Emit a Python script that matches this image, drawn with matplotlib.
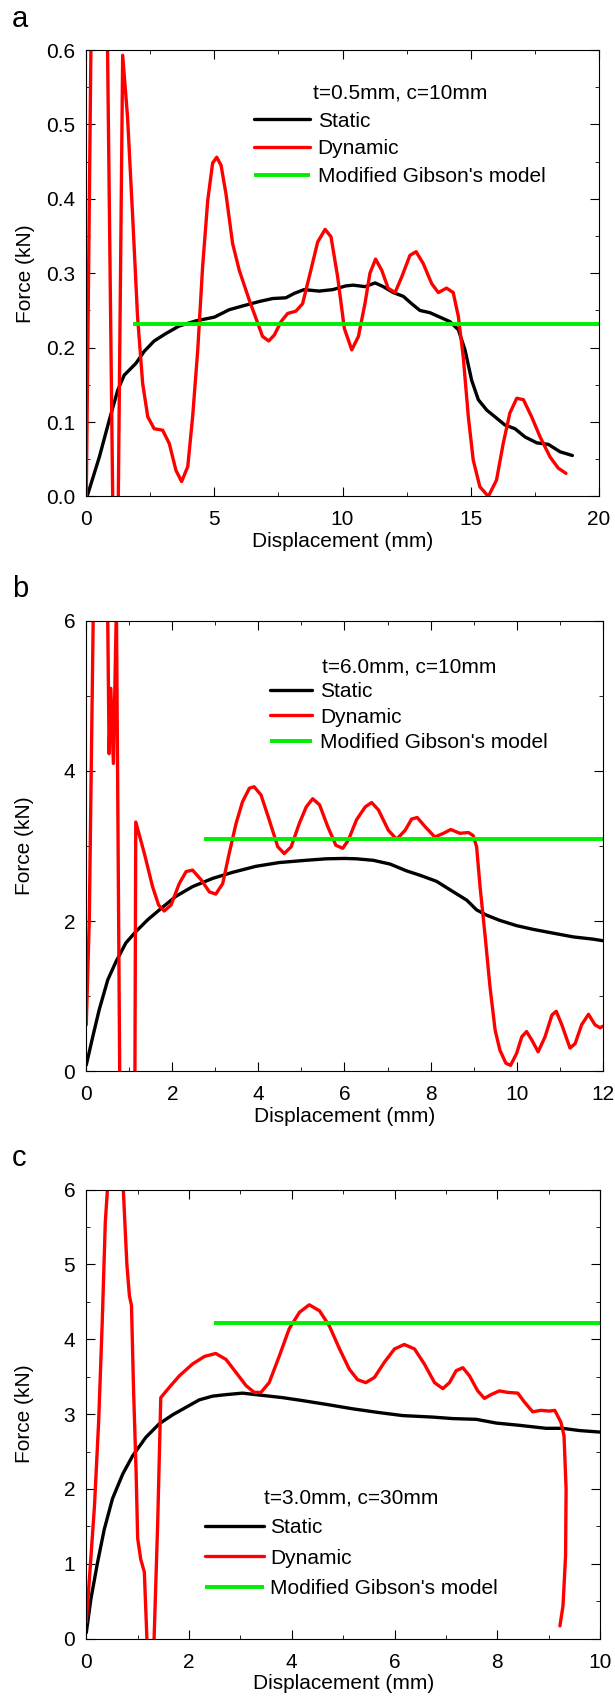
import matplotlib
matplotlib.use("Agg")
import matplotlib.pyplot as plt
from matplotlib.ticker import MultipleLocator, FormatStrFormatter

plt.rcParams['font.family'] = ['Liberation Sans', 'DejaVu Sans']
plt.rcParams['lines.solid_joinstyle'] = 'round'
plt.rcParams['lines.solid_capstyle'] = 'round'

# ---------------- panel a : t=0.5mm, c=10mm ----------------
a_static_x = [0.05, 0.51, 0.90, 1.23, 1.48, 1.94, 2.26, 2.65, 3.11, 3.62, 4.28, 5.0, 5.58,
              6.1, 6.75, 7.27, 7.79, 8.12, 8.5, 9.09, 9.62, 10.13, 10.42, 10.88, 11.27,
              11.59, 11.98, 12.37, 12.7, 13.02, 13.41, 13.8, 14.19, 14.52, 14.78, 15.04,
              15.3, 15.63, 15.95, 16.34, 16.73, 17.12, 17.58, 18.03, 18.49, 18.97]
a_static_y = [0.002, 0.053, 0.103, 0.143, 0.163, 0.179, 0.195, 0.209, 0.219, 0.229, 0.236,
              0.241, 0.251, 0.256, 0.262, 0.266, 0.267, 0.273, 0.278, 0.276, 0.278, 0.283,
              0.284, 0.282, 0.287, 0.282, 0.274, 0.269, 0.259, 0.250, 0.247, 0.241, 0.235,
              0.224, 0.197, 0.156, 0.130, 0.116, 0.107, 0.096, 0.091, 0.080, 0.072, 0.070,
              0.060, 0.055]
a_dyn_x = [0.0, 0.18, 0.35, 0.55, 0.75, 0.83, 1.03, 1.14, 1.25, 1.42, 1.61, 1.81, 2.0,
           2.2, 2.4, 2.65, 2.98, 3.24, 3.5, 3.72, 3.96, 4.15, 4.35, 4.54, 4.74, 4.93, 5.09,
           5.26, 5.45, 5.71, 5.97, 6.36, 6.69, 6.88, 7.12, 7.34, 7.6, 7.86, 8.18, 8.44,
           8.7, 9.03, 9.32, 9.55, 9.81, 10.07, 10.36, 10.62, 10.88, 11.07, 11.29, 11.53,
           11.78, 12.05, 12.31, 12.63, 12.87, 13.15, 13.48, 13.74, 14.06, 14.32, 14.52,
           14.71, 14.91, 15.1, 15.36, 15.69, 16.01, 16.27, 16.53, 16.8, 17.06, 17.38,
           17.71, 18.1, 18.42, 18.72]
a_dyn_y = [0.0, 0.6, 0.9, 1.0, 0.85, 0.6, 0.0, -0.12, 0.0, 0.593, 0.510, 0.376, 0.242,
           0.152, 0.107, 0.091, 0.089, 0.071, 0.035, 0.020, 0.040, 0.107, 0.197, 0.309,
           0.398, 0.448, 0.456, 0.445, 0.407, 0.340, 0.304, 0.264, 0.233, 0.215, 0.209,
           0.217, 0.235, 0.246, 0.249, 0.259, 0.295, 0.342, 0.359, 0.349, 0.295, 0.226,
           0.197, 0.215, 0.260, 0.300, 0.319, 0.304, 0.280, 0.274, 0.295, 0.324, 0.329,
           0.313, 0.286, 0.274, 0.280, 0.274, 0.242, 0.188, 0.107, 0.049, 0.013, 0.0,
           0.022, 0.071, 0.112, 0.132, 0.130, 0.107, 0.080, 0.053, 0.038, 0.031]
a_gibson_start, a_gibson = 1.81, 0.232

# ---------------- panel b : t=6.0mm, c=10mm ----------------
b_static_x = [0, 0.15, 0.30, 0.50, 0.69, 0.92, 1.15, 1.43, 1.74, 2.08, 2.47, 2.94, 3.40,
              3.94, 4.48, 5.10, 5.57, 6.0, 6.28, 6.67, 7.06, 7.44, 7.76, 8.14, 8.53, 8.84,
              9.07, 9.3, 9.61, 10.0, 10.39, 10.85, 11.32, 11.78, 12.0]
b_static_y = [0.085, 0.46, 0.82, 1.22, 1.46, 1.71, 1.86, 2.02, 2.17, 2.33, 2.46, 2.57,
              2.65, 2.73, 2.78, 2.81, 2.83, 2.835, 2.83, 2.81, 2.76, 2.67, 2.61, 2.53,
              2.39, 2.28, 2.15, 2.08, 2.01, 1.94, 1.89, 1.84, 1.79, 1.76, 1.74]
b_dyn_x = [0, 0.07, 0.13, 0.16, 0.3, 0.49, 0.53, 0.57, 0.63, 0.70, 0.78, 0.95, 1.13,
           1.15, 1.35, 1.54, 1.68, 1.81, 1.97, 2.16, 2.32, 2.47, 2.67, 2.86, 3.01, 3.17,
           3.32, 3.48, 3.63, 3.79, 3.90, 4.06, 4.25, 4.45, 4.6, 4.76, 4.95, 5.11, 5.26,
           5.42, 5.61, 5.80, 5.96, 6.09, 6.28, 6.48, 6.63, 6.79, 7.02, 7.21, 7.41, 7.56,
           7.69, 7.87, 8.10, 8.30, 8.47, 8.68, 8.88, 8.99, 9.07, 9.15, 9.27, 9.38, 9.5,
           9.61, 9.75, 9.86, 10.0, 10.12, 10.23, 10.35, 10.5, 10.66, 10.82, 10.92, 11.05,
           11.24, 11.36, 11.51, 11.67, 11.82, 11.94, 12.0]
b_dyn_y = [0.62, 2.02, 4.68, 6.0, 7.0, 6.5, 4.23, 5.10, 4.10, 6.2, -0.3, -0.5, -0.05,
           3.32, 2.90, 2.46, 2.215, 2.135, 2.215, 2.50, 2.66, 2.68, 2.55, 2.39, 2.36,
           2.50, 2.90, 3.30, 3.59, 3.77, 3.79, 3.68, 3.35, 2.99, 2.90, 2.99, 3.30, 3.52,
           3.63, 3.55, 3.26, 3.01, 2.97, 3.08, 3.35, 3.52, 3.58, 3.48, 3.21, 3.09, 3.21,
           3.36, 3.38, 3.26, 3.12, 3.17, 3.22, 3.17, 3.18, 3.14, 2.99, 2.46, 1.79, 1.13,
           0.55, 0.285, 0.108, 0.08, 0.24, 0.46, 0.53, 0.42, 0.26, 0.46, 0.75, 0.80, 0.62,
           0.31, 0.37, 0.62, 0.76, 0.62, 0.58, 0.60]
b_gibson_start, b_gibson = 2.74, 3.09

# ---------------- panel c : t=3.0mm, c=30mm ----------------
c_static_x = [0, 0.09, 0.22, 0.35, 0.51, 0.71, 0.90, 1.16, 1.42, 1.68, 1.94, 2.2, 2.46,
              2.72, 3.04, 3.43, 3.82, 4.21, 4.67, 5.19, 5.70, 6.16, 6.74, 7.13, 7.59,
              7.98, 8.43, 8.95, 9.27, 9.6, 9.99]
c_static_y = [0.08, 0.53, 1.02, 1.46, 1.87, 2.20, 2.44, 2.69, 2.87, 2.99, 3.09, 3.19,
              3.24, 3.26, 3.28, 3.25, 3.22, 3.18, 3.13, 3.07, 3.02, 2.98, 2.96, 2.94,
              2.93, 2.88, 2.85, 2.81, 2.81, 2.78, 2.76]
c_dyn_x = [0, 0.07, 0.16, 0.24, 0.31, 0.37, 0.44, 0.58, 0.70, 0.79, 0.84, 0.88, 0.92,
           0.97, 1.0, 1.06, 1.13, 1.18, 1.21, 1.29, 1.32, 1.39, 1.45, 1.62, 1.81, 2.07,
           2.30, 2.52, 2.72, 2.91, 3.11, 3.27, 3.40, 3.56, 3.76, 3.95, 4.15, 4.34, 4.54,
           4.73, 4.93, 5.12, 5.28, 5.44, 5.61, 5.80, 6.0, 6.19, 6.39, 6.58, 6.78, 6.94,
           7.07, 7.2, 7.33, 7.46, 7.62, 7.75, 7.88, 8.04, 8.2, 8.4, 8.53, 8.69, 8.85,
           9.01, 9.12, 9.24, 9.30, 9.34, 9.33, 9.28, 9.22]
c_dyn_y = [0.22, 0.89, 1.78, 2.89, 4.22, 5.56, 6.3, 6.8, 6.3, 5.0, 4.58, 4.45, 3.33,
           2.22, 1.34, 1.06, 0.89, 0.0, -0.3, -0.3, 0.0, 1.55, 3.22, 3.36, 3.51, 3.67,
           3.77, 3.81, 3.73, 3.56, 3.38, 3.29, 3.29, 3.42, 3.78, 4.14, 4.36, 4.46, 4.38,
           4.18, 3.87, 3.60, 3.46, 3.42, 3.49, 3.69, 3.87, 3.93, 3.87, 3.67, 3.42, 3.34,
           3.42, 3.58, 3.62, 3.51, 3.31, 3.21, 3.26, 3.31, 3.29, 3.28, 3.16, 3.03, 3.05,
           3.04, 3.05, 2.89, 2.71, 2.0, 1.11, 0.44, 0.17]
c_gibson_start, c_gibson = 2.48, 4.22

labels = ['Static', 'Dynamic', "Modified Gibson's model"]


def draw_panel(ax, sx, sy, dx, dy, g_start, g_val, xmax, ymax, title,
               xmaj, xmin, ymaj, ymin, yfmt, leg_pos, handlelen, tpad, lspace):
    """Draw one force-displacement panel with its legend."""
    ax.plot(sx, sy, color='black', lw=2.4, label=labels[0])
    ax.plot(dx, dy, color='red', lw=2.4, label=labels[1])
    ax.plot([g_start, xmax], [g_val, g_val], color='#00ee00', lw=2.8, label=labels[2],
            solid_capstyle='butt')

    ax.set_xlim(0, xmax)
    ax.set_ylim(0, ymax)
    ax.xaxis.set_major_locator(MultipleLocator(xmaj))
    ax.xaxis.set_minor_locator(MultipleLocator(xmin))
    ax.yaxis.set_major_locator(MultipleLocator(ymaj))
    ax.yaxis.set_minor_locator(MultipleLocator(ymin))
    ax.yaxis.set_major_formatter(FormatStrFormatter(yfmt))
    ax.tick_params(which='both', direction='in', top=True, right=True, labelsize=15)
    ax.tick_params(which='major', length=6.5)
    ax.tick_params(which='minor', length=3.2)
    ax.tick_params(axis='x', pad=10)
    ax.tick_params(axis='y', pad=8)

    ax.set_xlabel('Displacement (mm)', fontsize=15, labelpad=2)
    ax.set_ylabel('Force (kN)', fontsize=15)
    ax.yaxis.set_label_coords(-0.101, 0.5)

    leg = ax.legend(loc='center', bbox_to_anchor=leg_pos, frameon=False, fontsize=15,
                    title=title, title_fontsize=15, handlelength=handlelen,
                    handletextpad=tpad, labelspacing=lspace, borderpad=0)
    return leg


fig = plt.figure(figsize=(6.15, 17.03), dpi=100)
ax_a = fig.add_axes([0.1403, 0.7085, 0.8333, 0.2621])
ax_b = fig.add_axes([0.1403, 0.3709, 0.8397, 0.2646])
ax_c = fig.add_axes([0.1403, 0.0378, 0.8353, 0.2637])

draw_panel(ax_a, a_static_x, a_static_y, a_dyn_x, a_dyn_y, a_gibson_start, a_gibson,
           20, 0.6, 't=0.5mm, c=10mm', 5, 2.5, 0.1, 0.05, '%.1f',
           (0.612, 0.81), 2.67, 0.37, 0.42)
draw_panel(ax_b, b_static_x, b_static_y, b_dyn_x, b_dyn_y, b_gibson_start, b_gibson,
           12, 6, 't=6.0mm, c=10mm', 2, 1, 2, 1, '%d',
           (0.625, 0.814), 2.0, 0.37, 0.3)
draw_panel(ax_c, c_static_x, c_static_y, c_dyn_x, c_dyn_y, c_gibson_start, c_gibson,
           10, 6, 't=3.0mm, c=30mm', 2, 1, 1, 0.5, '%d',
           (0.516, 0.213), 2.86, 0.28, 0.54)

# panel letters
fig.text(12 / 615, 1 - 27 / 1703, 'a', fontsize=21, va='baseline')
fig.text(12 / 615, 1 - 597 / 1703, 'b', fontsize=21, va='baseline')
fig.text(12 / 615, 1 - 1166 / 1703, 'c', fontsize=21, va='baseline')

fig.savefig('out.png', dpi=100)
